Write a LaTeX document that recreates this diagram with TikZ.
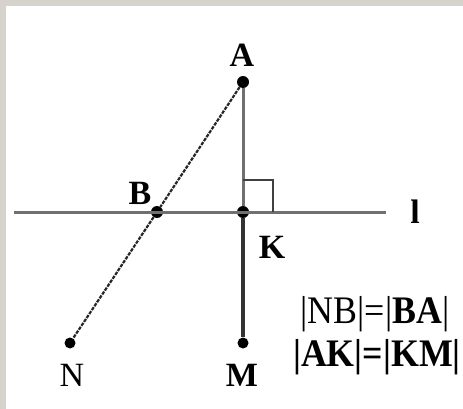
\documentclass[tikz,border=0pt]{standalone}
\usepackage{fontspec}
\setmainfont{Liberation Serif}
\usepackage{tikz}
\usetikzlibrary{positioning, calc}
\definecolor{framegray}{HTML}{D6D3CC}
\definecolor{linegray}{HTML}{707070}
\tikzset{
	dotnode/.style={
			circle,
			fill=black,
			minimum size=12pt,
			inner sep=0pt
		},
	smalldot/.style={
			dotnode,
			minimum size=11pt
		},
	lettnode/.style={
			inner sep=0pt,
			font=\fontsize{34}{38}\selectfont\bfseries
		},
	eqnode/.style={
			inner sep=0pt,
			anchor=base,
			xscale=0.92,
			font=\fontsize{39}{42}\selectfont
		},
	thinline/.style={
			draw=linegray,
			line width=3pt
		},
	thickline/.style={
			draw=black!80,
			line width=3.6pt
		},
	dashline/.style={
			draw=black!85,
			line width=2.2pt,
			dash pattern=on 3.5pt off 1.2pt
		}
}
\begin{document}
\begin{tikzpicture}[x=1pt,y=-1pt]
% frame
\fill[framegray] (0,0) rectangle (463,409);
\fill[white] (6,6) rectangle (463,409);
\useasboundingbox (0,0) rectangle (463,409);

\coordinate (lL) at (14,212);
\coordinate (lR) at (386,212);

\node[dotnode] (A) at (243,82) {};
\node[dotnode] (B) at (157,212) {};
\node[dotnode] (K) at (243,212) {};
\node[smalldot] (N) at (70,343) {};
\node[smalldot] (M) at (243,343) {};

\node[lettnode] (tA) at (242,55) {A};
\node[lettnode] (tB) at (140,193) {B};
\node[lettnode] (tK) at (272,247) {K};
\node[lettnode] (tl) at (415,212) {l};
\node[lettnode, font=\fontsize{34}{38}\selectfont] (tN) at (72,375) {N};
\node[lettnode] (tM) at (242,375) {M};

\node[eqnode] (eq1) at (375,323) {|NB|=|\textbf{BA}|};
\node[eqnode, font=\fontsize{39}{42}\selectfont\bfseries] (eq2) at (377,366) {|AK|=|KM|};

\draw[thinline] (lL) -- (lR);
\draw[thinline] (A) -- (K);
\draw[thickline] (K) -- (M);
\draw[dashline] (A) -- (B) -- (N);
\draw[draw=black!75, line width=2pt] ($(K)+(0,-32)$) -| ($(K)+(30,0)$);

\end{tikzpicture}
\end{document}
